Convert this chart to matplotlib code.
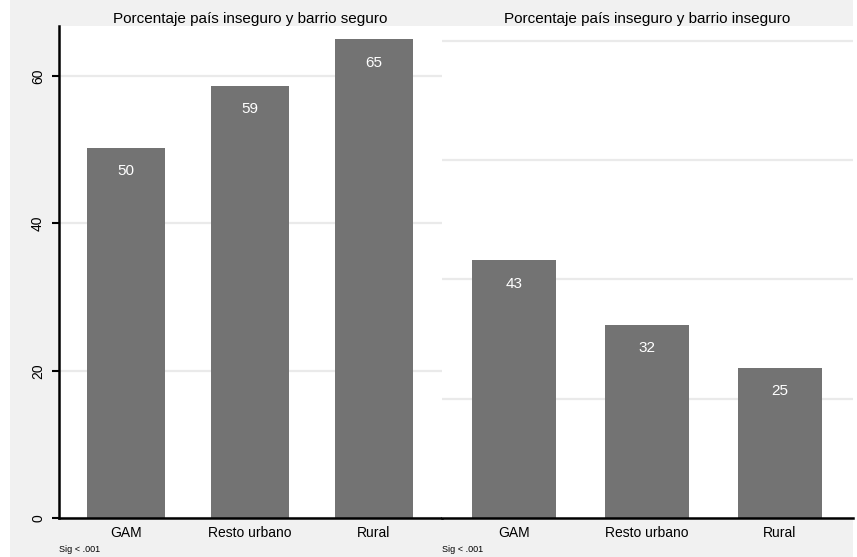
import matplotlib.pyplot as plt
from matplotlib.patches import Rectangle

plt.rcParams['font.family'] = ['Liberation Sans', 'DejaVu Sans']

# Datos
zonas = ['GAM', 'Resto urbano', 'Rural']
seguro = [50.3, 58.7, 65.0]
inseguro = [43.2, 32.4, 25.2]
titulo_izq = 'Porcentaje país inseguro y barrio seguro'
titulo_der = 'Porcentaje país inseguro y barrio inseguro'
nota = 'Sig < .001'

color_barra = '#737373'
color_grid = '#eaeaea'

fig = plt.figure(figsize=(8.57, 5.57), dpi=100)
# fondo gris del gráfico combinado
fig.patches.append(Rectangle((10 / 857, 0), 843 / 857, 1, transform=fig.transFigure,
                             facecolor='#f1f1f1', edgecolor='none', zorder=-1))

ax1 = fig.add_axes([59 / 857, 1 - 518 / 557, 383 / 857, 492 / 557])
ax2 = fig.add_axes([442 / 857, 1 - 518 / 557, 411 / 857, 492 / 557])


def panel(ax, valores, titulo, ymax, ticks, con_eje):
    x = range(len(zonas))
    ax.bar(x, valores, width=0.63, color=color_barra, zorder=2)
    for xi, v in zip(x, valores):
        ax.annotate(f'{v:.0f}', (xi, v), xytext=(0, -17), textcoords='offset points',
                    ha='center', va='center', color='white', fontsize=11, zorder=3)
    ax.set_xlim(-0.54, len(zonas) - 0.45)
    ax.set_ylim(0, ymax)
    ax.set_xticks(list(x))
    ax.set_xticklabels(zonas, fontsize=10)
    ax.tick_params(axis='x', length=0, pad=6)
    ax.set_yticks(ticks)
    ax.yaxis.grid(True, color=color_grid, linewidth=1.6, zorder=0)
    ax.set_axisbelow(True)
    for s in ['top', 'right']:
        ax.spines[s].set_visible(False)
    ax.spines['bottom'].set_linewidth(1.8)
    if con_eje:
        ax.spines['left'].set_linewidth(1.8)
        ax.set_yticklabels([str(t) for t in ticks], rotation=90, va='center', fontsize=10)
        ax.tick_params(axis='y', length=5, width=1.5, pad=5)
    else:
        ax.spines['left'].set_visible(False)
        ax.tick_params(axis='y', length=0, labelleft=False)
    ax.set_title(titulo, fontsize=11, pad=1)
    ax.text(0.0, -0.065, nota, transform=ax.transAxes, fontsize=6.5, va='center', ha='left')


panel(ax1, seguro, titulo_izq, 66.8, [0, 20, 40, 60], True)
panel(ax2, inseguro, titulo_der, 82.5, [0, 20, 40, 60, 80], False)
ax2.get_ygridlines()[0].set_visible(False)

fig.savefig('out.png', dpi=100)
